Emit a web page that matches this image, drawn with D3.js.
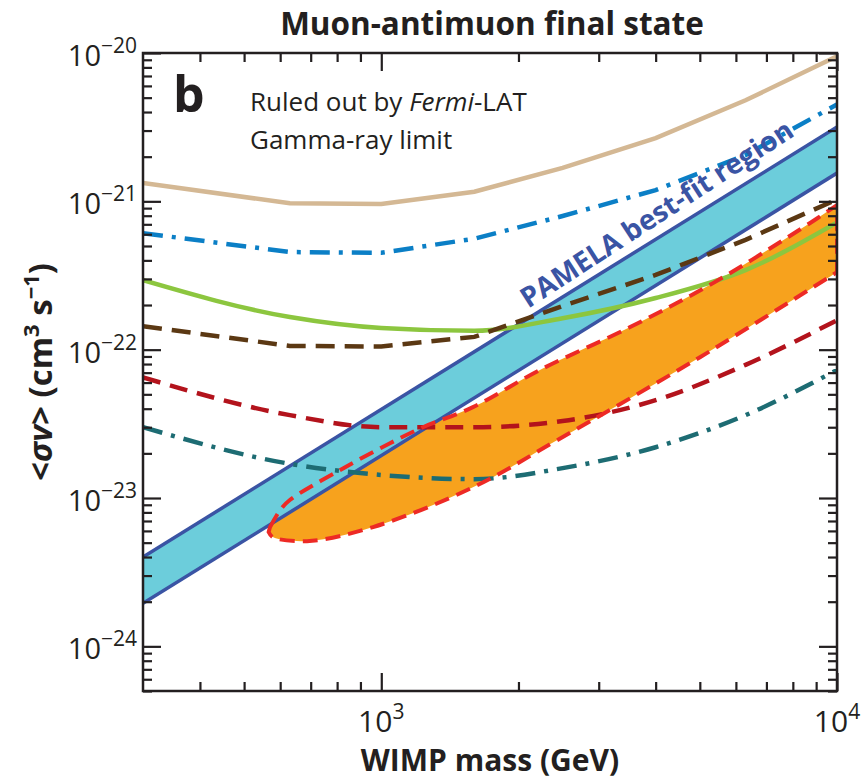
<!DOCTYPE html>
<html>
<head>
<meta charset="utf-8">
<script src="https://cdn.jsdelivr.net/npm/d3@7"></script>
<style>
  body { margin: 0; background: #fff; }
  svg { display: block; font-family: "Open Sans", sans-serif; }
</style>
</head>
<body>
<svg id="main-vis" width="863" height="781"></svg>
<script>
// WIMP mass grid (GeV) used for the Fermi-LAT limit curves
const massGrid = [300, 630, 1000, 1600, 2500, 4000, 6300, 10000];

// limit curves, <sigma v> in cm^3 s^-1
const tanLimit = [1.33e-21, 9.7e-22, 9.6e-22, 1.16e-21, 1.68e-21, 2.67e-21, 4.8e-21, 9.5e-21];
const blueLimit = [6.1e-22, 4.55e-22, 4.5e-22, 5.6e-22, 7.96e-22, 1.19e-21, 2.05e-21, 4.5e-21];
const greenLimit = [2.94e-22, 1.66e-22, 1.40e-22, 1.34e-22, 1.63e-22, 2.23e-22, 3.44e-22, 7.2e-22];
const brownLimit = [1.44e-22, 1.06e-22, 1.05e-22, 1.22e-22, 1.97e-22, 3.19e-22, 5.5e-22, 1.03e-21];
const darkRedLimit = [6.5e-23, 3.62e-23, 3.0e-23, 3.0e-23, 3.3e-23, 4.57e-23, 7.9e-23, 1.58e-22];
const tealLimit = [3.0e-23, 1.7e-23, 1.43e-23, 1.34e-23, 1.59e-23, 2.2e-23, 3.62e-23, 7.3e-23];

// PAMELA best-fit band
const pamelaMass = [300, 10000];
const pamelaUpper = [4.0e-24, 3.17e-21];
const pamelaLower = [1.95e-24, 1.55e-21];

// orange (Fermi electron) region: upper edge left->right, lower edge right->left
const regionUpperMass = [570, 600, 630, 811, 1045, 1234, 1589, 2229, 3516, 5346, 8730, 10000];
const regionUpperSigma = [6.37e-24, 8.3e-24, 9.7e-24, 1.54e-23, 2.34e-23, 3.0e-23, 4.1e-23, 7.3e-23, 1.42e-22, 2.81e-22, 7.15e-22, 9.44e-22];
const regionLowerMass = [10000, 5004, 2430, 1589, 959, 687, 578, 566];
const regionLowerSigma = [3.33e-22, 8.9e-23, 2.45e-23, 1.18e-23, 6.37e-24, 5.12e-24, 5.45e-24, 5.9e-24];

// axis ticks
const xMajorTicks = [1000, 10000];
const xTickLabels = ["3", "4"];
const yMajorTicks = [1e-24, 1e-23, 1e-22, 1e-21, 1e-20];
const yTickLabels = ["\u221224", "\u221223", "\u221222", "\u221221", "\u221220"];

const margin = { top: 53, right: 26, bottom: 90, left: 143 },
    width = 863 - margin.left - margin.right,
    height = 781 - margin.top - margin.bottom;

const svg = d3.select("#main-vis");

const chart = svg.append("g")
    .attr("transform", `translate(${margin.left},${margin.top})`);

const x = d3.scaleLog().domain([300, 10000]).range([0, width]);
const y = d3.scaleLog().domain([5e-25, 1e-20]).range([height, 0]);

chart.append("clipPath").attr("id", "plot-clip")
    .append("rect").attr("width", width).attr("height", height);

const plot = chart.append("g").attr("clip-path", "url(#plot-clip)");

const zip = (ms, vs) => ms.map((m, i) => ({ m: m, v: vs[i] }));

// orange region: two smooth edges joined by the straight cut at 10 TeV
const edgeCurve = d3.line()
    .x(d => x(d.m)).y(d => y(d.v))
    .curve(d3.curveCatmullRom);
const regionPath = edgeCurve(zip(regionUpperMass, regionUpperSigma))
    + "L" + edgeCurve(zip(regionLowerMass, regionLowerSigma)).slice(1) + "Z";

plot.append("path")
    .attr("d", regionPath)
    .attr("fill", "#f7a21d");

const band = d3.area()
    .x((d, i) => x(pamelaMass[i]))
    .y0((d, i) => y(pamelaLower[i]))
    .y1((d, i) => y(pamelaUpper[i]));

plot.append("path")
    .attr("d", band(pamelaMass))
    .attr("fill", "#6ccddb");

const edge = d3.line().x(d => x(d.m)).y(d => y(d.v));
[pamelaUpper, pamelaLower].forEach(vals => {
    plot.append("path")
        .attr("d", edge(zip(pamelaMass, vals)))
        .attr("fill", "none")
        .attr("stroke", "#3a54a4")
        .attr("stroke-width", 3.5);
});

// limit curves
const curves = [
    { vals: tanLimit, color: "#d4b894", dash: null, curve: d3.curveLinear },
    { vals: blueLimit, color: "#0b7fc6", dash: "20,9,4,9", curve: d3.curveLinear },
    { vals: greenLimit, color: "#8cc63f", dash: null, curve: d3.curveMonotoneX },
    { vals: brownLimit, color: "#5b3813", dash: "19,10", curve: d3.curveLinear },
    { vals: darkRedLimit, color: "#b3131c", dash: "18,10", curve: d3.curveMonotoneX },
    { vals: tealLimit, color: "#1d6c73", dash: "20,9,4,9", curve: d3.curveMonotoneX }
];

curves.forEach(c => {
    const line = d3.line().x(d => x(d.m)).y(d => y(d.v)).curve(c.curve);
    plot.append("path")
        .attr("d", line(zip(massGrid, c.vals)))
        .attr("fill", "none")
        .attr("stroke", c.color)
        .attr("stroke-width", 4.5)
        .attr("stroke-dasharray", c.dash);
});

// red dashed outline of the orange region on top
plot.append("path")
    .attr("d", regionPath)
    .attr("fill", "none")
    .attr("stroke", "#ed2a25")
    .attr("stroke-width", 4)
    .attr("stroke-dasharray", "15,8");

// PAMELA label along the band
chart.append("text")
    .attr("transform", `translate(${662 - margin.left},${222 - margin.top}) rotate(-33)`)
    .attr("text-anchor", "middle")
    .attr("font-size", "28px")
    .attr("font-weight", "bold")
    .attr("fill", "#3a54a4")
    .text("PAMELA best-fit region");

// ticks, all pointing inward
const xMinor = [];
[100, 1000].forEach(d => { for (let k = 2; k <= 9; k++) if (k * d > 300 && k * d < 10000 && k * d !== 1000) xMinor.push(k * d); });
const yMinor = [];
[1e-25, 1e-24, 1e-23, 1e-22, 1e-21].forEach(d => { for (let k = 2; k <= 9; k++) if (k * d >= 5e-25) yMinor.push(k * d); });

function ticks(axisFn, vals, size, tr) {
    const g = chart.append("g")
        .attr("transform", tr)
        .call(axisFn.tickValues(vals).tickSize(size).tickSizeOuter(0).tickFormat(""));
    g.select(".domain").remove();
    g.selectAll("line").attr("stroke", "#231f20").attr("stroke-width", 2.2);
}
ticks(d3.axisBottom(x), xMinor, -9, `translate(0,${height})`);
ticks(d3.axisBottom(x), xMajorTicks, -18, `translate(0,${height})`);
ticks(d3.axisTop(x), xMinor, -9, "translate(0,0)");
ticks(d3.axisTop(x), xMajorTicks, -18, "translate(0,0)");
ticks(d3.axisLeft(y), yMinor, -9, "translate(0,0)");
ticks(d3.axisLeft(y), yMajorTicks, -18, "translate(0,0)");
ticks(d3.axisRight(y), yMinor, -9, `translate(${width},0)`);
ticks(d3.axisRight(y), yMajorTicks, -18, `translate(${width},0)`);

chart.append("rect")
    .attr("width", width).attr("height", height)
    .attr("fill", "none")
    .attr("stroke", "#231f20")
    .attr("stroke-width", 2.5);

// tick labels
const xl = chart.selectAll(".x-label")
    .data(xMajorTicks)
    .enter().append("text")
    .attr("class", "x-label")
    .attr("x", d => x(d))
    .attr("y", height + 41)
    .attr("text-anchor", "middle")
    .attr("font-size", "30px")
    .attr("fill", "#231f20");
xl.append("tspan").text("10");
xl.append("tspan").attr("dy", -13).attr("font-size", "21px").text((d, i) => xTickLabels[i]);

const yl = chart.selectAll(".y-label")
    .data(yMajorTicks)
    .enter().append("text")
    .attr("class", "y-label")
    .attr("x", -6)
    .attr("y", d => y(d) + 13)
    .attr("text-anchor", "end")
    .attr("font-size", "29px")
    .attr("fill", "#231f20");
yl.append("tspan").text("10");
yl.append("tspan").attr("dy", -13).attr("font-size", "21px").text((d, i) => yTickLabels[i]);

// titles
svg.append("text")
    .attr("x", 492).attr("y", 35)
    .attr("text-anchor", "middle")
    .attr("font-size", "31.5px")
    .attr("font-weight", "bold")
    .attr("fill", "#231f20")
    .text("Muon-antimuon final state");

svg.append("text")
    .attr("x", 490).attr("y", 771)
    .attr("text-anchor", "middle")
    .attr("font-size", "30px")
    .attr("font-weight", "bold")
    .attr("fill", "#231f20")
    .text("WIMP mass (GeV)");

const yTitle = svg.append("text")
    .attr("transform", "translate(52,372) rotate(-90)")
    .attr("text-anchor", "middle")
    .attr("font-size", "33px")
    .attr("font-weight", "bold")
    .attr("fill", "#231f20");
yTitle.append("tspan").text("<");
yTitle.append("tspan").attr("font-style", "italic").text("\u03c3v");
yTitle.append("tspan").text("> (cm");
yTitle.append("tspan").attr("dy", -13).attr("font-size", "22px").text("3");
yTitle.append("tspan").attr("dy", 13).text(" s");
yTitle.append("tspan").attr("dy", -13).attr("font-size", "22px").text("\u22121");
yTitle.append("tspan").attr("dy", 13).text(")");

// panel letter and annotation
svg.append("text")
    .attr("x", 173).attr("y", 112)
    .attr("font-size", "50px")
    .attr("font-weight", "bold")
    .attr("fill", "#231f20")
    .text("b");

const note = svg.append("text")
    .attr("x", 250).attr("y", 111)
    .attr("font-size", "26px")
    .attr("fill", "#231f20");
note.append("tspan").text("Ruled out by ");
note.append("tspan").attr("font-style", "italic").text("Fermi");
note.append("tspan").text("-LAT");

svg.append("text")
    .attr("x", 250).attr("y", 149)
    .attr("font-size", "26px")
    .attr("fill", "#231f20")
    .text("Gamma-ray limit");
</script>
</body>
</html>
